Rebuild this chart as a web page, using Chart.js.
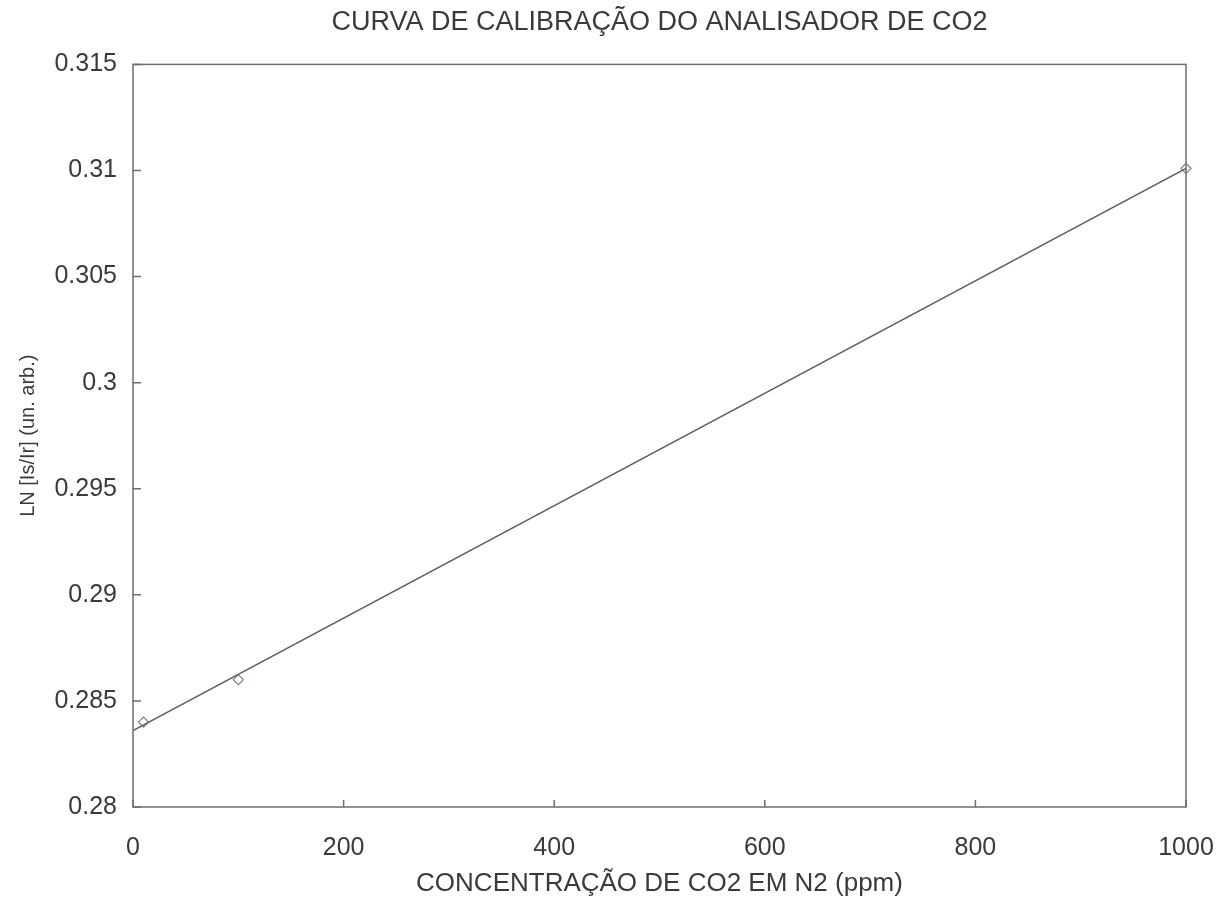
<!DOCTYPE html>
<html>
<head>
<meta charset="utf-8">
<script src="https://cdn.jsdelivr.net/npm/chart.js@4.4.0/dist/chart.umd.min.js"></script>
<style>
  html, body { margin: 0; padding: 0; background: #fff; }
  #wrap { width: 1232px; height: 899px; }
</style>
</head>
<body>
<div id="wrap"><canvas id="chart" width="1232" height="899"></canvas></div>
<script>
// measured points
const concPpm = [10, 100, 1000]
const lnRatio = [0.2840, 0.2860, 0.3101]

// fitted calibration line (ends)
const fitX = [0, 1000]
const fitY = [0.2836, 0.3101]

const xTicks = [0, 200, 400, 600, 800, 1000]
const yTicks = [0.28, 0.285, 0.29, 0.295, 0.3, 0.305, 0.31, 0.315]

const FONT = "'Liberation Sans', Arial, sans-serif"
const TEXT = '#3a3a3a'
const AXIS = '#6e6e6e'

// frame box + small inward tick marks, like the old plotting package
const frameTicks = {
  id: 'frameTicks',
  afterDatasetsDraw(chart) {
    const { ctx, chartArea: a, scales } = chart
    ctx.save()
    ctx.strokeStyle = AXIS
    ctx.lineWidth = 1.5
    ctx.strokeRect(a.left, a.top, a.right - a.left, a.bottom - a.top)
    ctx.beginPath()
    xTicks.forEach(v => {
      const px = scales.x.getPixelForValue(v)
      ctx.moveTo(px, a.bottom)
      ctx.lineTo(px, a.bottom - 7)
    })
    yTicks.forEach(v => {
      const py = scales.y.getPixelForValue(v)
      ctx.moveTo(a.left, py)
      ctx.lineTo(a.left + 8, py)
    })
    ctx.stroke()
    ctx.restore()
  }
}

new Chart(document.getElementById('chart'), {
  type: 'scatter',
  data: {
    datasets: [
      {
        label: 'ajuste',
        type: 'line',
        data: fitX.map((x, i) => ({ x: x, y: fitY[i] })),
        borderColor: '#5f5f5f',
        borderWidth: 1.5,
        pointRadius: 0,
        fill: false
      },
      {
        label: 'medidas',
        data: concPpm.map((x, i) => ({ x: x, y: lnRatio[i] })),
        pointStyle: 'rectRot',
        pointRadius: 5,
        borderColor: '#857a98',
        backgroundColor: 'rgba(255,255,255,0)',
        borderWidth: 1.2,
        clip: false
      }
    ]
  },
  options: {
    responsive: false,
    animation: false,
    layout: { padding: { top: 0, left: 0, right: 46, bottom: 0 } },
    plugins: {
      legend: { display: false },
      tooltip: { enabled: false },
      title: {
        display: true,
        fullSize: false,
        text: 'CURVA DE CALIBRAÇÃO DO ANALISADOR DE CO2',
        color: TEXT,
        font: { family: FONT, size: 27, weight: 'normal', lineHeight: 1.2 },
        padding: { top: 6, bottom: 26 }
      }
    },
    scales: {
      x: {
        type: 'linear',
        min: 0,
        max: 1000,
        afterFit: s => { s.height = 92; s.paddingLeft = 0; s.paddingRight = 0 },
        afterBuildTicks: s => { s.ticks = xTicks.map(v => ({ value: v })) },
        grid: { display: false, drawTicks: false },
        border: { display: false },
        ticks: {
          color: TEXT,
          padding: 26,
          maxRotation: 0,
          font: { family: FONT, size: 25 },
          callback: v => String(v)
        },
        title: {
          display: true,
          text: 'CONCENTRAÇÃO DE CO2 EM N2 (ppm)',
          color: TEXT,
          font: { family: FONT, size: 26, lineHeight: 1.2 },
          padding: { top: 0, bottom: 0 }
        }
      },
      y: {
        type: 'linear',
        min: 0.28,
        max: 0.315,
        afterFit: s => { s.width = 133 },
        afterBuildTicks: s => { s.ticks = yTicks.map(v => ({ value: v })) },
        grid: { display: false, drawTicks: false },
        border: { display: false },
        ticks: {
          color: TEXT,
          padding: 16,
          font: { family: FONT, size: 25 },
          callback: v => String(parseFloat(v.toFixed(3)))
        },
        title: {
          display: true,
          text: 'LN [Is/Ir] (un. arb.)',
          color: TEXT,
          font: { family: FONT, size: 20, lineHeight: 1.2 },
          padding: { top: 16, bottom: 0 }
        }
      }
    }
  },
  plugins: [frameTicks]
})
</script>
</body>
</html>
